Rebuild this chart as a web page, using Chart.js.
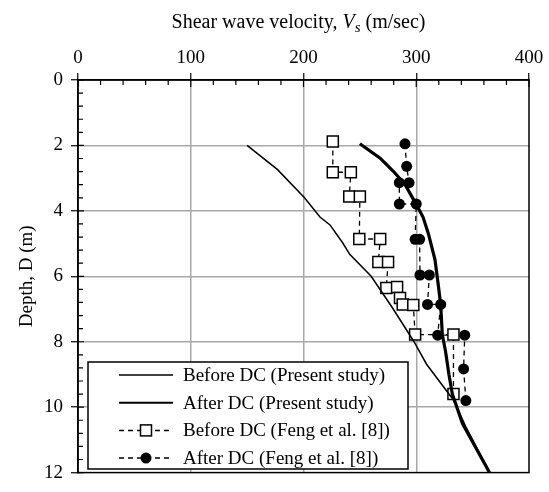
<!DOCTYPE html>
<html>
<head>
<meta charset="utf-8">
<script src="https://cdn.jsdelivr.net/npm/chart.js@4"></script>
<style>
	body { margin: 0; background: #fff; }
	#wrap { width: 549px; height: 492px; }
</style>
</head>
<body>
<div id="wrap"><canvas id="myChart"></canvas></div>
<script>
"use strict";

// present study curves (Vs in m/sec, depth in m)
const beforeModelV = [150, 177, 200.7, 214.6, 223.5, 235, 241, 260, 279, 298, 309, 333, 344, 365];
const beforeModelD = [2, 2.74, 3.59, 4.19, 4.43, 4.99, 5.33, 6, 6.97, 8, 8.68, 9.78, 10.6, 12];
const afterModelV = [250, 268, 279.7, 290, 299, 306, 310.7, 316.6, 319.6, 321.7, 323.1, 326, 329, 332, 341, 365];
const afterModelD = [1.95, 2.39, 2.79, 3.19, 3.74, 4.19, 4.69, 5.49, 6.28, 6.88, 7.78, 8.3, 9, 9.6, 10.5, 12];

// Feng et al. [8] measurements
const fengBeforeV = [226, 226, 242, 240.6, 250, 249.5, 268, 266.4, 275, 273.5, 283, 285.6, 288, 297.4, 299, 333, 333];
const fengBeforeD = [1.88, 2.82, 2.82, 3.56, 3.56, 4.86, 4.86, 5.56, 5.56, 6.36, 6.33, 6.66, 6.86, 6.88, 7.78, 7.78, 9.6];
const fengAfterV = [290, 291.5, 293.6, 285, 285, 300, 299, 303, 303.3, 311.6, 310, 321.7, 319, 343, 342, 344];
const fengAfterD = [1.95, 2.64, 3.14, 3.14, 3.79, 3.79, 4.87, 4.87, 5.96, 5.96, 6.86, 6.86, 7.8, 7.8, 8.83, 9.8];

const xTicks = [0, 100, 200, 300, 400];
const yTicks = [0, 2, 4, 6, 8, 10, 12];
const legendLabels = [
	'Before DC (Present study)',
	'After DC (Present study)',
	'Before DC (Feng et al. [8])',
	'After DC (Feng et al. [8])'
];

const FONT = "'Liberation Serif', 'Times New Roman', serif";

const toPoints = (vs, ds) => vs.map((v, i) => ({x: v, y: ds[i]}));

// box, inward ticks and the mixed italic title
const framePlugin = {
	id: 'frame',
	afterDraw(chart) {
		const {ctx, chartArea: a, scales: {x, y}} = chart;
		ctx.save();
		ctx.strokeStyle = '#000';
		ctx.lineWidth = 1.5;
		ctx.strokeRect(a.left, a.top, a.right - a.left, a.bottom - a.top);

		ctx.lineWidth = 1.2;
		ctx.beginPath();
		for (let i = 0; i <= 20; i++) {
			const px = x.getPixelForValue(i * 20);
			const len = i % 5 === 0 ? 7 : 5;
			ctx.moveTo(px, a.top);
			ctx.lineTo(px, a.top + len);
		}
		for (let i = 0; i <= 30; i++) {
			const py = y.getPixelForValue(i * 0.4);
			const len = i % 5 === 0 ? 6 : 5;
			ctx.moveTo(a.left, py);
			ctx.lineTo(a.left + len, py);
		}
		ctx.stroke();

		// x axis title: Shear wave velocity, Vs (m/sec)
		const parts = [
			{t: 'Shear wave velocity, ', f: '20px ' + FONT, dy: 0},
			{t: 'V', f: 'italic 20px ' + FONT, dy: 0},
			{t: 's', f: 'italic 15px ' + FONT, dy: 4},
			{t: ' (m/sec)', f: '20px ' + FONT, dy: 0}
		];
		let total = 0;
		parts.forEach(p => { ctx.font = p.f; total += ctx.measureText(p.t).width; });
		let tx = (a.left + a.right) / 2 - total / 2 - 5;
		ctx.fillStyle = '#000';
		ctx.textBaseline = 'alphabetic';
		ctx.textAlign = 'left';
		parts.forEach(p => {
			ctx.font = p.f;
			ctx.fillText(p.t, tx, 28 + p.dy);
			tx += ctx.measureText(p.t).width;
		});
		ctx.restore();
	}
};

// legend box inside the plot
const legendPlugin = {
	id: 'boxLegend',
	afterDraw(chart) {
		const {ctx} = chart;
		const left = 88, top = 362, width = 320, height = 107;
		const rowH = 27.7;
		ctx.save();
		ctx.fillStyle = '#fff';
		ctx.fillRect(left, top, width, height);
		ctx.strokeStyle = '#000';
		ctx.lineWidth = 1.5;
		ctx.strokeRect(left, top, width, height);

		chart.data.datasets.forEach((ds, i) => {
			const cy = top + 13 + i * rowH;
			const x0 = left + 31, x1 = left + 85;
			ctx.strokeStyle = '#000';
			ctx.lineWidth = i === 1 ? 2 : 1.5;
			ctx.setLineDash(ds.borderDash || []);
			ctx.beginPath();
			ctx.moveTo(x0, cy);
			ctx.lineTo(x1, cy);
			ctx.stroke();
			ctx.setLineDash([]);
			if (ds.pointRadius > 0) {
				const cx = (x0 + x1) / 2;
				ctx.lineWidth = 1.5;
				if (ds.pointStyle === 'rect') {
					ctx.fillStyle = '#fff';
					ctx.fillRect(cx - 5.5, cy - 5.5, 11, 11);
					ctx.strokeRect(cx - 5.5, cy - 5.5, 11, 11);
				} else {
					ctx.fillStyle = '#000';
					ctx.beginPath();
					ctx.arc(cx, cy, 5.5, 0, Math.PI * 2);
					ctx.fill();
				}
			}
			ctx.fillStyle = '#000';
			ctx.font = '19px ' + FONT;
			ctx.textBaseline = 'middle';
			ctx.textAlign = 'left';
			ctx.fillText(legendLabels[i], left + 95, cy + 1);
		});
		ctx.restore();
	}
};

const data = {
	datasets: [
		{
			label: legendLabels[0],
			data: toPoints(beforeModelV, beforeModelD),
			showLine: true,
			borderColor: '#000',
			borderWidth: 1.5,
			pointRadius: 0,
			tension: 0
		},
		{
			label: legendLabels[1],
			data: toPoints(afterModelV, afterModelD),
			showLine: true,
			borderColor: '#000',
			borderWidth: 3.2,
			pointRadius: 0,
			tension: 0
		},
		{
			label: legendLabels[2],
			data: toPoints(fengBeforeV, fengBeforeD),
			showLine: true,
			borderColor: '#000',
			borderWidth: 1.3,
			borderDash: [5, 4],
			pointStyle: 'rect',
			pointRadius: 7.8,
			pointBackgroundColor: '#fff',
			pointBorderColor: '#000',
			pointBorderWidth: 1.5,
			tension: 0
		},
		{
			label: legendLabels[3],
			data: toPoints(fengAfterV, fengAfterD),
			showLine: true,
			borderColor: '#000',
			borderWidth: 1.3,
			borderDash: [5, 4],
			pointStyle: 'circle',
			pointRadius: 5.5,
			pointBackgroundColor: '#000',
			pointBorderColor: '#000',
			pointBorderWidth: 0,
			tension: 0
		}
	]
};

const gridColor = (c) => (c.tick.value === c.scale.min || c.tick.value === c.scale.max) ? 'rgba(0,0,0,0)' : '#a8a8a8';

const config = {
	type: 'scatter',
	data: data,
	options: {
		responsive: true,
		maintainAspectRatio: false,
		animation: false,
		layout: {padding: {top: 0, left: 0, right: 20, bottom: 11}},
		plugins: {
			legend: {display: false},
			tooltip: {enabled: false}
		},
		scales: {
			x: {
				type: 'linear',
				position: 'top',
				min: xTicks[0],
				max: xTicks[xTicks.length - 1],
				afterBuildTicks: (s) => { s.ticks = xTicks.map(v => ({value: v})); },
				afterFit: (s) => { s.height = 80; },
				ticks: {
					color: '#000',
					padding: 4,
					font: {family: FONT, size: 19}
				},
				grid: {
					color: gridColor,
					lineWidth: 1.5,
					tickColor: '#000',
					tickLength: 7,
					tickWidth: 1.2
				},
				border: {display: true, color: '#000', width: 1.5}
			},
			y: {
				type: 'linear',
				reverse: true,
				min: yTicks[0],
				max: yTicks[yTicks.length - 1],
				afterBuildTicks: (s) => { s.ticks = yTicks.map(v => ({value: v})); },
				afterFit: (s) => { s.width = 78; },
				title: {
					display: true,
					text: 'Depth, D (m)',
					color: '#000',
					font: {family: FONT, size: 19},
					padding: {top: 16, bottom: 0}
				},
				ticks: {
					color: '#000',
					padding: 8,
					font: {family: FONT, size: 19}
				},
				grid: {
					color: gridColor,
					lineWidth: 1.5,
					tickColor: '#000',
					tickLength: 7,
					tickWidth: 1.2
				},
				border: {display: true, color: '#000', width: 1.5}
			}
		}
	},
	plugins: [framePlugin, legendPlugin]
};

const myChart = new Chart(document.getElementById('myChart'), config);
</script>
</body>
</html>
